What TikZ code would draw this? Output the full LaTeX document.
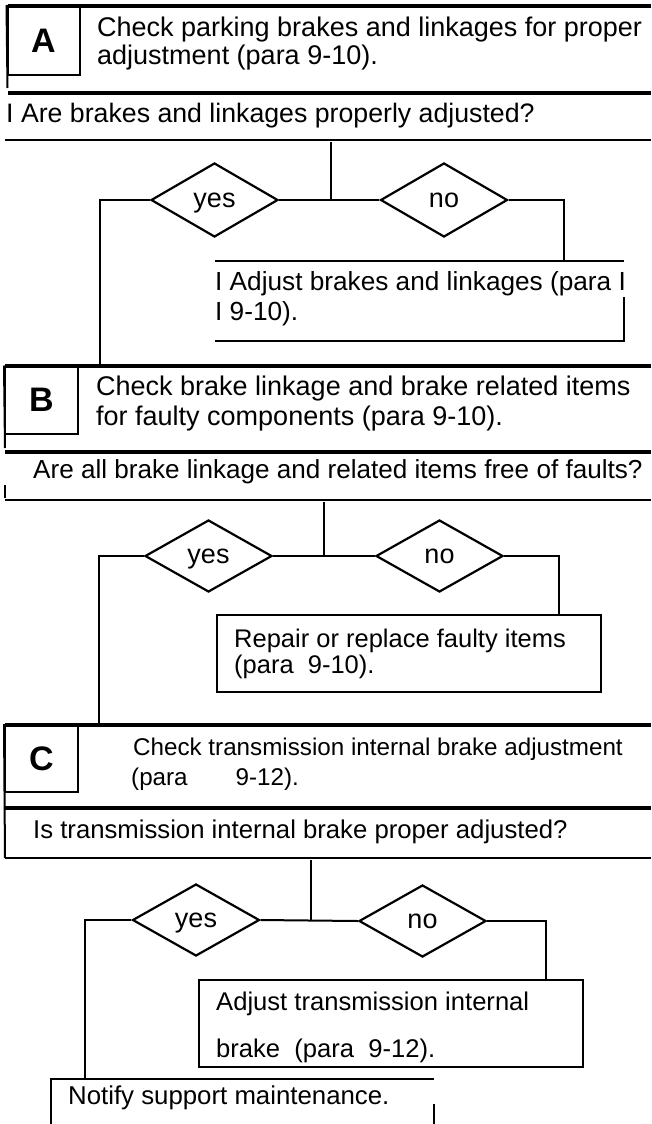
\documentclass[tikz,border=0pt]{standalone}
\usepackage{fontspec}
\setmainfont{Liberation Sans}
\usetikzlibrary{shapes.geometric}

\tikzset{
  dec/.style={draw,diamond,line width=2.2pt,minimum width=127pt,minimum height=74pt,
    inner sep=0pt,text height=14pt,text depth=0pt,font=\fontsize{27}{30}\selectfont},
  txt/.style={anchor=base west,inner sep=0pt,font=\fontsize{#1}{#1}\selectfont},
  txt/.default=27,
  letbox/.style={draw,line width=2pt,minimum width=72pt,minimum height=67pt,inner sep=0pt,
    font=\fontsize{34}{34}\selectfont\bfseries},
  fixbox/.style={draw,line width=2pt,inner sep=0pt},
  rule/.style={line width=4.5pt},
  wire/.style={line width=2pt}
}

\begin{document}
\begin{tikzpicture}[x=1pt,y=-1pt]
  \useasboundingbox (0,0) rectangle (651,1124);
  % A
  \draw[rule] (8,6) -- (651,6);
  \node[letbox,minimum height=69pt] (la) at (43.5,40.5) {A};
  \node[txt] (ta1) at (97,37) {Check parking brakes and linkages for proper};
  \node[txt] (ta2) at (97,65) {adjustment (para 9-10).};
  \draw[wire] (la.north west) -- (7.5,88);
  \draw[rule] (8,93) -- (651,93);
  \node[txt=26.7] (qa) at (6,122) {I Are brakes and linkages properly adjusted?};
  \draw[wire] (5,140) -- (651,140);
  \node[dec] (ya) at (214.5,200) {yes};
  \node[dec] (na) at (444,200) {no};
  \coordinate (sa) at (331,142);
  \coordinate (fa) at (564,261);
  \draw[wire] (sa) -- (sa |- ya.east);
  \draw[wire] (ya.east) -- (na.west);
  \draw[wire] (na.east) -| (fa);
  \draw[wire] (215,261) -- (624,261);
  \draw[wire] (215,341) -- (624,341) -- (624,297);
  \node[txt=26.2] (xa1) at (215,290) {I Adjust brakes and linkages (para I};
  \node[txt=26.2] (xa2) at (215,320) {I 9-10).};
  % B
  \draw[rule] (5,366) -- (651,366);
  \coordinate (ib) at (100,366);
  \draw[wire] (ya.west) -| (ib);
  \node[letbox,minimum width=73pt] (lb) at (41.5,400) {B};
  \node[txt] (tb1) at (96,395) {Check brake linkage and brake related items};
  \node[txt] (tb2) at (96,425) {for faulty components (para 9-10).};
  \draw[wire] (lb.north west) -- (5,448);
  \draw[rule] (5,452) -- (651,452);
  \node[txt=26.1] (qb) at (33,478) {Are all brake linkage and related items free of faults?};
  \draw[wire] (5,485) -- (5,498);
  \draw[wire] (5,500) -- (651,500);
  \node[dec,minimum height=72pt] (yb) at (208.5,556) {yes};
  \node[dec,minimum height=72pt] (nb) at (439.5,556) {no};
  \coordinate (sb) at (324,502);
  \node[fixbox,minimum width=384pt,minimum height=77pt] (fb) at (409,653.5) {};
  \node[txt=25.5] (xb1) at (234,647) {Repair or replace faulty items};
  \node[txt=25.5] (xb2) at (234,673) {(para\ \ 9-10).};
  \draw[wire] (sb) -- (sb |- yb.east);
  \draw[wire] (yb.east) -- (nb.west);
  \draw[wire] (nb.east) -| ([xshift=-43pt]fb.north east);
  % C
  \draw[rule] (5,725) -- (651,725);
  \coordinate (ic) at (99,725);
  \draw[wire] (yb.west) -| (ic);
  \node[letbox,minimum width=73pt] (lc) at (41.5,758.5) {C};
  \node[txt=24.2] (tc1) at (133,755) {Check transmission internal brake adjustment};
  \node[txt=24.2] (tc2) at (131,785) {(para\hspace{48pt}9-12).};
  \draw[wire] (lc.north west) -- (5,858);
  \draw[rule] (5,808) -- (651,808);
  \node[txt=25.7] (qc) at (33,838) {Is transmission internal brake proper adjusted?};
  \draw[wire] (5,858) -- (651,858);
  \node[dec,minimum height=72pt] (yc) at (196,920) {yes};
  \node[dec,minimum height=72pt] (nc) at (422.5,921) {no};
  \coordinate (sc) at (311,860);
  \node[fixbox,minimum width=384pt,minimum height=87pt] (fc) at (391,1023.5) {};
  \node[txt=25.6] (xc1) at (216,1010) {Adjust transmission internal};
  \node[txt=25.6] (xc2) at (216,1057) {brake\ \ (para\ \ 9-12).};
  \draw[wire] (sc) -- (sc |- yc.east);
  \draw[wire] (yc.east) -- (nc.west);
  \draw[wire] (nc.east) -| ([xshift=-38pt]fc.north east);
  % notify
  \coordinate (nt) at (85,1079);
  \draw[wire] (yc.west) -| (nt);
  \draw[wire] (51,1124) |- (434,1079);
  \draw[wire] (434,1104) -- (434,1124);
  \node[txt=25.8] (xn) at (68,1104) {Notify support maintenance.};
\end{tikzpicture}
\end{document}
